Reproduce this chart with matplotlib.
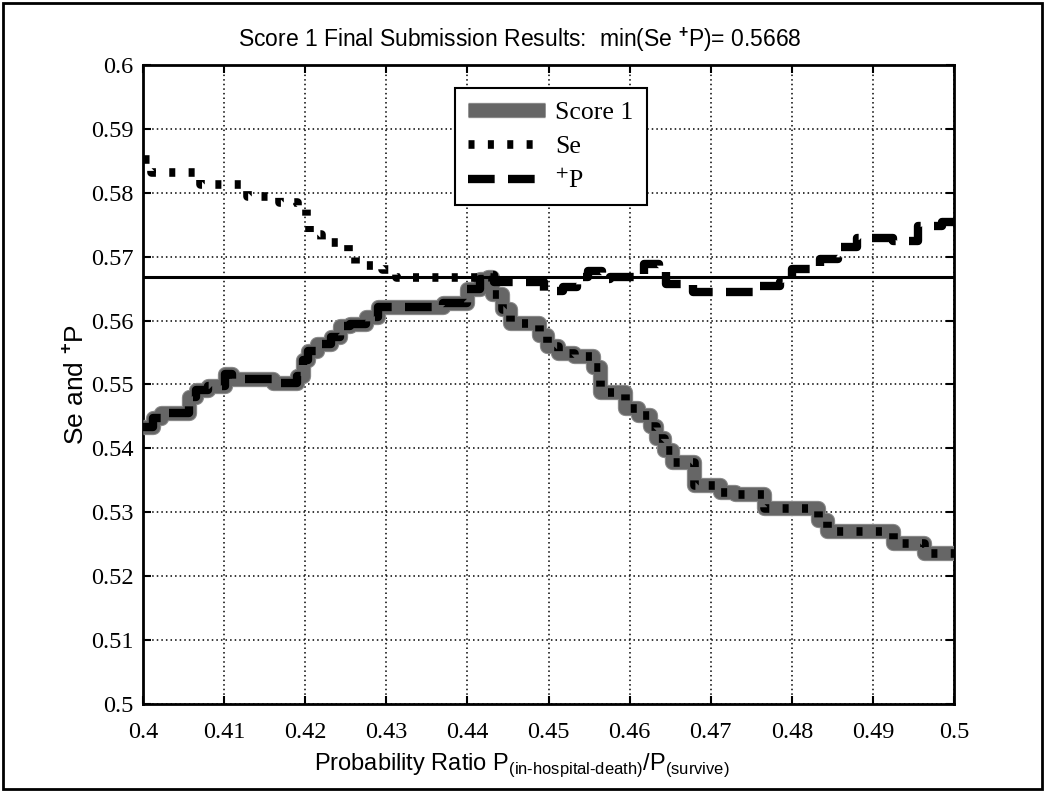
import matplotlib
matplotlib.use("Agg")
import matplotlib.pyplot as plt
import matplotlib.patheffects as pe
from matplotlib.font_manager import FontProperties
from matplotlib.patches import Rectangle

# step levels: (start x, value)
se_x = [0.4000, 0.4010, 0.4070, 0.4128, 0.4168, 0.4190, 0.4201, 0.4205, 0.4220,
        0.4253, 0.4262, 0.4295, 0.4312, 0.4430, 0.4443, 0.4452, 0.4488, 0.4498,
        0.4512, 0.4532, 0.4555, 0.4564, 0.4594, 0.4610, 0.4625, 0.4633, 0.4642,
        0.4652, 0.4680, 0.4712, 0.4730, 0.4766, 0.4832, 0.4843, 0.4925, 0.4963,
        0.5000]
se_y = [0.5853, 0.5832, 0.5813, 0.5795, 0.5785, 0.5777, 0.5762, 0.5735, 0.5723,
        0.5707, 0.5687, 0.5680, 0.5668, 0.5641, 0.5618, 0.5597, 0.5578, 0.5560,
        0.5550, 0.5544, 0.5527, 0.5489, 0.5464, 0.5453, 0.5435, 0.5416, 0.5398,
        0.5379, 0.5343, 0.5331, 0.5328, 0.5307, 0.5288, 0.5270, 0.5252, 0.5237,
        0.5237]

pp_x = [0.4000, 0.4012, 0.4022, 0.4057, 0.4065, 0.4080, 0.4101, 0.4110, 0.4160,
        0.4190, 0.4197, 0.4203, 0.4215, 0.4232, 0.4243, 0.4255, 0.4275, 0.4290,
        0.4370, 0.4400, 0.4415, 0.4425, 0.4433, 0.4495, 0.4518, 0.4535, 0.4549,
        0.4566, 0.4576, 0.4618, 0.4636, 0.4645, 0.4678, 0.4756, 0.4786, 0.4800,
        0.4835, 0.4857, 0.4880, 0.4925, 0.4956, 0.4985, 0.5000]
pp_y = [0.5434, 0.5448, 0.5456, 0.5481, 0.5492, 0.5498, 0.5516, 0.5509, 0.5503,
        0.5513, 0.5539, 0.5552, 0.5563, 0.5575, 0.5591, 0.5594, 0.5605, 0.5622,
        0.5628, 0.5649, 0.5665, 0.5672, 0.5660, 0.5646, 0.5652, 0.5669, 0.5677,
        0.5665, 0.5669, 0.5688, 0.5676, 0.5657, 0.5644, 0.5654, 0.5661, 0.5680,
        0.5696, 0.5715, 0.5729, 0.5724, 0.5748, 0.5755, 0.5755]

# score 1 = lower of the two: +P on the left, Se from the crossing on
score_x = pp_x[:21] + [0.4425] + se_x[13:]
score_y = pp_y[:21] + [se_y[12]] + se_y[13:]

best = 0.5668

xticks = [0.4, 0.41, 0.42, 0.43, 0.44, 0.45, 0.46, 0.47, 0.48, 0.49, 0.5]
xtick_labels = ["0.4", "0.41", "0.42", "0.43", "0.44", "0.45", "0.46", "0.47", "0.48", "0.49", "0.5"]
yticks = [0.5, 0.51, 0.52, 0.53, 0.54, 0.55, 0.56, 0.57, 0.58, 0.59, 0.6]
ytick_labels = ["0.5", "0.51", "0.52", "0.53", "0.54", "0.55", "0.56", "0.57", "0.58", "0.59", "0.6"]

plt.rcParams["mathtext.fontset"] = "custom"
plt.rcParams["mathtext.rm"] = "Liberation Sans"
plt.rcParams["mathtext.bf"] = "Liberation Sans:bold"

fig = plt.figure(figsize=(10.45, 7.92), dpi=100)
ax = fig.add_axes([143 / 1045, 88 / 792, 811 / 1045, 639 / 792])

ax.plot(score_x, score_y, drawstyle="steps-post", color="#666666", lw=9.5,
        solid_joinstyle="round", solid_capstyle="butt",
        path_effects=[pe.Stroke(linewidth=11, foreground="#8c8c8c"), pe.Normal()],
        label="Score 1", zorder=3)
ax.plot(se_x, se_y, drawstyle="steps-post", color="k", lw=6.2,
        dashes=(0.7, 1.55), dash_capstyle="butt", label="Se", zorder=4)
ax.plot(pp_x, pp_y, drawstyle="steps-post", color="k", lw=6,
        dashes=(3.2, 1.6), dash_capstyle="butt", label=r"$^{+}$P", zorder=4)
ax.axhline(best, color="k", lw=2.2, zorder=5)

ax.set_xlim(0.4, 0.5)
ax.set_ylim(0.5, 0.6)
ax.set_xticks(xticks)
ax.set_xticklabels(xtick_labels, fontfamily="Liberation Serif", fontsize=17.5)
ax.set_yticks(yticks)
ax.set_yticklabels(ytick_labels, fontfamily="Liberation Serif", fontsize=17.5)
ax.tick_params(direction="in", length=6, width=1.5, top=True, right=True)
ax.tick_params(axis="x", pad=13)
ax.tick_params(axis="y", pad=7)
ax.set_axisbelow(True)
ax.grid(True, color="k", linestyle=(0, (1, 2)), lw=1.1)
for s in ax.spines.values():
    s.set_linewidth(2)

ax.set_title(r"Score 1 Final Submission Results:  min(Se $^{\mathbf{+}}$P)= 0.5668",
             fontfamily="Liberation Sans", fontsize=16.5, pad=13, x=0.465)
ax.set_xlabel(r"Probability Ratio P$_{\text{(in-hospital-death)}}$/P$_{\text{(survive)}}$",
              fontfamily="Liberation Sans", fontsize=17, labelpad=6, x=0.467)
ax.set_ylabel(r"Se and $^{\mathbf{+}}$P", fontfamily="Liberation Sans", fontsize=19, labelpad=2)

leg = ax.legend(loc="upper left", bbox_to_anchor=(0.385, 0.964), fancybox=False,
                edgecolor="k", framealpha=1, borderaxespad=0, handlelength=3.0,
                handletextpad=0.4, labelspacing=0.42, borderpad=0.5,
                prop=FontProperties(family="Liberation Serif", size=18.5, math_fontfamily="stix"))
leg.get_frame().set_linewidth(1.5)

fig.add_artist(Rectangle((0.003, 0.004), 0.994, 0.992, transform=fig.transFigure,
                         fill=False, edgecolor="k", lw=2))

fig.savefig("out.png", dpi=100)
